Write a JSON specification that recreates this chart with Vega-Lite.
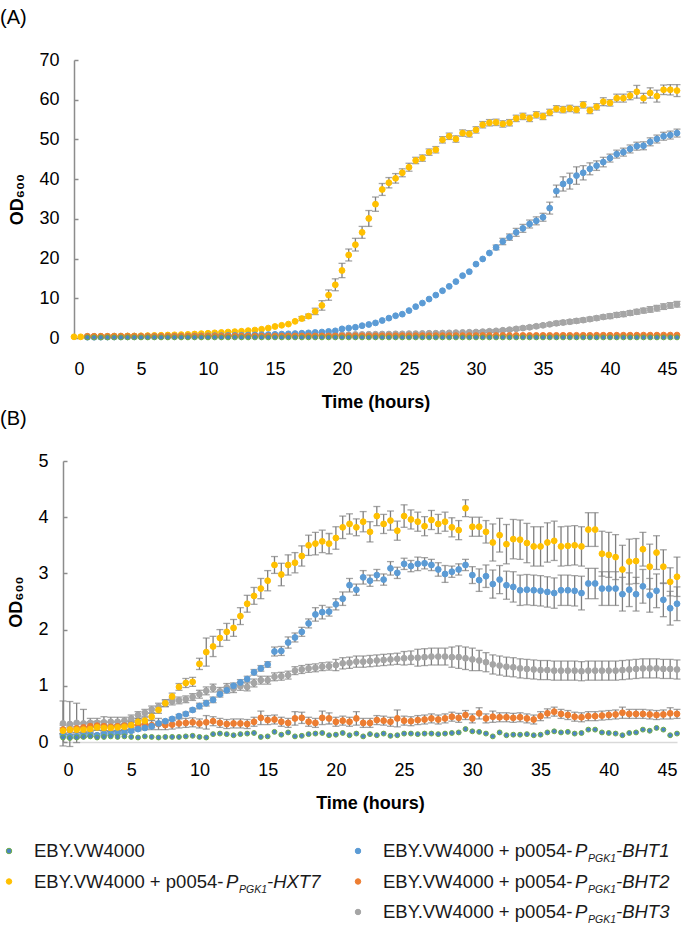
{
"$schema":"https://vega.github.io/schema/vega-lite/v6.json",
"background":"white",
"padding":{"left":0,"top":8,"right":0,"bottom":0},
"spacing":-2,
"columns":1,
"align":"none",
"bounds":"full",
"config":{"view":{"stroke":null},"font":"Liberation Sans",
"axis":{"grid":false,"labelFont":"Liberation Sans","labelFontSize":18,"labelColor":"#000","titleFont":"Liberation Sans","titleFontSize":18,"titleFontWeight":"bold","titleColor":"#000"},
"axisX":{"domainColor":"#d9d9d9","domainWidth":1.5,"ticks":false,"labelPadding":20,"titlePadding":15},
"axisY":{"domainColor":"#8c8c8c","domainWidth":1.5,"tickColor":"#8c8c8c","tickSize":-4,"tickWidth":1.5,"labelPadding":19,"titlePadding":12},
"title":{"anchor":"start","frame":"group","fontSize":20,"fontWeight":"normal","font":"Liberation Sans","color":"#000","offset":23}},
"resolve":{"scale":{"x":"independent","y":"independent"}},
"datasets":{
"A":[
{"t":1,"s":"B3","y":0.45},{"t":1.5,"s":"B3","y":0.45},{"t":2,"s":"B3","y":0.45},{"t":2.5,"s":"B3","y":0.45},{"t":3,"s":"B3","y":0.5},{"t":3.5,"s":"B3","y":0.5},{"t":4,"s":"B3","y":0.5},{"t":4.5,"s":"B3","y":0.5},{"t":5,"s":"B3","y":0.5},{"t":5.5,"s":"B3","y":0.5},{"t":6,"s":"B3","y":0.5},{"t":6.5,"s":"B3","y":0.5},{"t":7,"s":"B3","y":0.55},{"t":7.5,"s":"B3","y":0.55},{"t":8,"s":"B3","y":0.55},{"t":8.5,"s":"B3","y":0.55},{"t":9,"s":"B3","y":0.55},{"t":9.5,"s":"B3","y":0.55},{"t":10,"s":"B3","y":0.6},{"t":10.5,"s":"B3","y":0.6},{"t":11,"s":"B3","y":0.6},{"t":11.5,"s":"B3","y":0.6},{"t":12,"s":"B3","y":0.6},{"t":12.5,"s":"B3","y":0.6},{"t":13,"s":"B3","y":0.65},{"t":13.5,"s":"B3","y":0.65},{"t":14,"s":"B3","y":0.65},{"t":14.5,"s":"B3","y":0.65},{"t":15,"s":"B3","y":0.7},{"t":15.5,"s":"B3","y":0.7},{"t":16,"s":"B3","y":0.7},{"t":16.5,"s":"B3","y":0.7},{"t":17,"s":"B3","y":0.75},{"t":17.5,"s":"B3","y":0.75},{"t":18,"s":"B3","y":0.75},{"t":18.5,"s":"B3","y":0.8},{"t":19,"s":"B3","y":0.8},{"t":19.5,"s":"B3","y":0.8},{"t":20,"s":"B3","y":0.85},{"t":20.5,"s":"B3","y":0.85},{"t":21,"s":"B3","y":0.9},{"t":21.5,"s":"B3","y":0.9},{"t":22,"s":"B3","y":0.95},{"t":22.5,"s":"B3","y":0.95},{"t":23,"s":"B3","y":1.0},{"t":23.5,"s":"B3","y":1.0},{"t":24,"s":"B3","y":1.05},{"t":24.5,"s":"B3","y":1.05},{"t":25,"s":"B3","y":1.1},{"t":25.5,"s":"B3","y":1.1},{"t":26,"s":"B3","y":1.15},{"t":26.5,"s":"B3","y":1.2},{"t":27,"s":"B3","y":1.2},{"t":27.5,"s":"B3","y":1.25},{"t":28,"s":"B3","y":1.3},{"t":28.5,"s":"B3","y":1.35},{"t":29,"s":"B3","y":1.4},{"t":29.5,"s":"B3","y":1.45},{"t":30,"s":"B3","y":1.5,"e":0.3},{"t":30.5,"s":"B3","y":1.6,"e":0.3},{"t":31,"s":"B3","y":1.7,"e":0.3},{"t":31.5,"s":"B3","y":1.8,"e":0.3},{"t":32,"s":"B3","y":1.95,"e":0.3},{"t":32.5,"s":"B3","y":2.1,"e":0.3},{"t":33,"s":"B3","y":2.3,"e":0.4},{"t":33.5,"s":"B3","y":2.5,"e":0.4},{"t":34,"s":"B3","y":2.7,"e":0.4},{"t":34.5,"s":"B3","y":2.95,"e":0.4},{"t":35,"s":"B3","y":3.2,"e":0.4},{"t":35.5,"s":"B3","y":3.45,"e":0.4},{"t":36,"s":"B3","y":3.7,"e":0.5},{"t":36.5,"s":"B3","y":3.9,"e":0.5},{"t":37,"s":"B3","y":4.1,"e":0.5},{"t":37.5,"s":"B3","y":4.3,"e":0.5},{"t":38,"s":"B3","y":4.5,"e":0.5},{"t":38.5,"s":"B3","y":4.75,"e":0.5},{"t":39,"s":"B3","y":5.0,"e":0.5},{"t":39.5,"s":"B3","y":5.3,"e":0.5},{"t":40,"s":"B3","y":5.5,"e":0.6},{"t":40.5,"s":"B3","y":5.8,"e":0.6},{"t":41,"s":"B3","y":6.0,"e":0.6},{"t":41.5,"s":"B3","y":6.3,"e":0.6},{"t":42,"s":"B3","y":6.6,"e":0.6},{"t":42.5,"s":"B3","y":6.9,"e":0.6},{"t":43,"s":"B3","y":7.2,"e":0.7},{"t":43.5,"s":"B3","y":7.5,"e":0.7},{"t":44,"s":"B3","y":7.9,"e":0.7},{"t":44.5,"s":"B3","y":8.2,"e":0.7},{"t":45,"s":"B3","y":8.5,"e":0.7},
{"t":0,"s":"H","y":0.3},{"t":0.5,"s":"H","y":0.3},{"t":1,"s":"H","y":0.35},{"t":1.5,"s":"H","y":0.35},{"t":2,"s":"H","y":0.4},{"t":2.5,"s":"H","y":0.4},{"t":3,"s":"H","y":0.45},{"t":3.5,"s":"H","y":0.45},{"t":4,"s":"H","y":0.5},{"t":4.5,"s":"H","y":0.5},{"t":5,"s":"H","y":0.55},{"t":5.5,"s":"H","y":0.6},{"t":6,"s":"H","y":0.65},{"t":6.5,"s":"H","y":0.7},{"t":7,"s":"H","y":0.75},{"t":7.5,"s":"H","y":0.8},{"t":8,"s":"H","y":0.85},{"t":8.5,"s":"H","y":0.9},{"t":9,"s":"H","y":1.0},{"t":9.5,"s":"H","y":1.1},{"t":10,"s":"H","y":1.2},{"t":10.5,"s":"H","y":1.3},{"t":11,"s":"H","y":1.4},{"t":11.5,"s":"H","y":1.5},{"t":12,"s":"H","y":1.6},{"t":12.5,"s":"H","y":1.7},{"t":13,"s":"H","y":1.85},{"t":13.5,"s":"H","y":2.0},{"t":14,"s":"H","y":2.2},{"t":14.5,"s":"H","y":2.5},{"t":15,"s":"H","y":2.9},{"t":15.5,"s":"H","y":3.2},{"t":16,"s":"H","y":3.5},{"t":16.5,"s":"H","y":4.2},{"t":17,"s":"H","y":4.9,"e":0.5},{"t":17.5,"s":"H","y":5.5,"e":0.5},{"t":18,"s":"H","y":6.7,"e":0.8},{"t":18.5,"s":"H","y":8.2,"e":1.2},{"t":19,"s":"H","y":10.8,"e":1.3},{"t":19.5,"s":"H","y":13.4,"e":1.5},{"t":20,"s":"H","y":17.0,"e":1.8},{"t":20.5,"s":"H","y":20.9,"e":1.5},{"t":21,"s":"H","y":23.5,"e":1.6},{"t":21.5,"s":"H","y":26.6,"e":1.5},{"t":22,"s":"H","y":30.1,"e":2.0},{"t":22.5,"s":"H","y":33.7,"e":1.8},{"t":23,"s":"H","y":37.4,"e":1.5},{"t":23.5,"s":"H","y":39.1,"e":1.3},{"t":24,"s":"H","y":40.2,"e":1.2},{"t":24.5,"s":"H","y":41.6,"e":1.0},{"t":25,"s":"H","y":43.0,"e":1.0},{"t":25.5,"s":"H","y":44.7,"e":0.8},{"t":26,"s":"H","y":45.3,"e":0.8},{"t":26.5,"s":"H","y":46.8,"e":0.8},{"t":27,"s":"H","y":47.4,"e":0.8},{"t":27.5,"s":"H","y":49.9,"e":0.8},{"t":28,"s":"H","y":50.8,"e":0.8},{"t":28.5,"s":"H","y":50.1,"e":0.8},{"t":29,"s":"H","y":51.6,"e":0.8},{"t":29.5,"s":"H","y":51.4,"e":0.8},{"t":30,"s":"H","y":52.4,"e":0.8},{"t":30.5,"s":"H","y":53.7,"e":0.8},{"t":31,"s":"H","y":54.2,"e":0.8},{"t":31.5,"s":"H","y":54.3,"e":0.8},{"t":32,"s":"H","y":53.9,"e":0.8},{"t":32.5,"s":"H","y":54.2,"e":0.8},{"t":33,"s":"H","y":55.3,"e":0.8},{"t":33.5,"s":"H","y":55.8,"e":0.8},{"t":34,"s":"H","y":55.3,"e":0.8},{"t":34.5,"s":"H","y":56.2,"e":0.8},{"t":35,"s":"H","y":55.8,"e":0.8},{"t":35.5,"s":"H","y":56.8,"e":0.8},{"t":36,"s":"H","y":57.7,"e":0.8},{"t":36.5,"s":"H","y":57.5,"e":0.8},{"t":37,"s":"H","y":57.8,"e":0.8},{"t":37.5,"s":"H","y":57.5,"e":0.8},{"t":38,"s":"H","y":58.7,"e":0.8},{"t":38.5,"s":"H","y":57.3,"e":0.8},{"t":39,"s":"H","y":58.2,"e":0.8},{"t":39.5,"s":"H","y":59.5,"e":1.0},{"t":40,"s":"H","y":59.2,"e":0.8},{"t":40.5,"s":"H","y":60.4,"e":1.0},{"t":41,"s":"H","y":60.4,"e":1.0},{"t":41.5,"s":"H","y":61.0,"e":1.0},{"t":42,"s":"H","y":62.0,"e":1.6},{"t":42.5,"s":"H","y":60.4,"e":1.2},{"t":43,"s":"H","y":61.7,"e":1.3},{"t":43.5,"s":"H","y":60.9,"e":1.5},{"t":44,"s":"H","y":62.5,"e":1.2},{"t":44.5,"s":"H","y":62.5,"e":1.3},{"t":45,"s":"H","y":62.3,"e":1.5},
{"t":1,"s":"B1","y":0.2},{"t":1.5,"s":"B1","y":0.2},{"t":2,"s":"B1","y":0.22},{"t":2.5,"s":"B1","y":0.24},{"t":3,"s":"B1","y":0.26},{"t":3.5,"s":"B1","y":0.28},{"t":4,"s":"B1","y":0.3},{"t":4.5,"s":"B1","y":0.32},{"t":5,"s":"B1","y":0.34},{"t":5.5,"s":"B1","y":0.36},{"t":6,"s":"B1","y":0.38},{"t":6.5,"s":"B1","y":0.4},{"t":7,"s":"B1","y":0.42},{"t":7.5,"s":"B1","y":0.44},{"t":8,"s":"B1","y":0.46},{"t":8.5,"s":"B1","y":0.48},{"t":9,"s":"B1","y":0.5},{"t":9.5,"s":"B1","y":0.52},{"t":10,"s":"B1","y":0.55},{"t":10.5,"s":"B1","y":0.58},{"t":11,"s":"B1","y":0.6},{"t":11.5,"s":"B1","y":0.63},{"t":12,"s":"B1","y":0.66},{"t":12.5,"s":"B1","y":0.7},{"t":13,"s":"B1","y":0.74},{"t":13.5,"s":"B1","y":0.78},{"t":14,"s":"B1","y":0.82},{"t":14.5,"s":"B1","y":0.87},{"t":15,"s":"B1","y":0.92},{"t":15.5,"s":"B1","y":0.98},{"t":16,"s":"B1","y":1.05},{"t":16.5,"s":"B1","y":1.12},{"t":17,"s":"B1","y":1.2},{"t":17.5,"s":"B1","y":1.3},{"t":18,"s":"B1","y":1.4},{"t":18.5,"s":"B1","y":1.5},{"t":19,"s":"B1","y":1.65},{"t":19.5,"s":"B1","y":1.8},{"t":20,"s":"B1","y":2.3},{"t":20.5,"s":"B1","y":2.5},{"t":21,"s":"B1","y":2.7},{"t":21.5,"s":"B1","y":3.1},{"t":22,"s":"B1","y":3.4},{"t":22.5,"s":"B1","y":3.8},{"t":23,"s":"B1","y":4.4},{"t":23.5,"s":"B1","y":5.0},{"t":24,"s":"B1","y":5.6},{"t":24.5,"s":"B1","y":6.0},{"t":25,"s":"B1","y":6.9},{"t":25.5,"s":"B1","y":7.9},{"t":26,"s":"B1","y":8.8},{"t":26.5,"s":"B1","y":9.8},{"t":27,"s":"B1","y":10.8},{"t":27.5,"s":"B1","y":11.9},{"t":28,"s":"B1","y":13.0},{"t":28.5,"s":"B1","y":14.2},{"t":29,"s":"B1","y":15.7},{"t":29.5,"s":"B1","y":16.7},{"t":30,"s":"B1","y":18.6},{"t":30.5,"s":"B1","y":19.9},{"t":31,"s":"B1","y":21.4},{"t":31.5,"s":"B1","y":22.8,"e":0.6},{"t":32,"s":"B1","y":24.3,"e":0.8},{"t":32.5,"s":"B1","y":25.4,"e":0.8},{"t":33,"s":"B1","y":26.6,"e":1.0},{"t":33.5,"s":"B1","y":27.6,"e":1.0},{"t":34,"s":"B1","y":28.7,"e":1.0},{"t":34.5,"s":"B1","y":29.5,"e":1.0},{"t":35,"s":"B1","y":30.4,"e":1.0},{"t":35.5,"s":"B1","y":32.7,"e":1.5},{"t":36,"s":"B1","y":37.0,"e":1.5},{"t":36.5,"s":"B1","y":38.8,"e":1.8},{"t":37,"s":"B1","y":39.5,"e":2.0},{"t":37.5,"s":"B1","y":40.9,"e":2.2},{"t":38,"s":"B1","y":41.6,"e":1.8},{"t":38.5,"s":"B1","y":42.6,"e":1.5},{"t":39,"s":"B1","y":43.4,"e":1.2},{"t":39.5,"s":"B1","y":44.3,"e":1.2},{"t":40,"s":"B1","y":45.3,"e":1.0},{"t":40.5,"s":"B1","y":46.3,"e":1.0},{"t":41,"s":"B1","y":46.8,"e":1.0},{"t":41.5,"s":"B1","y":47.6,"e":1.0},{"t":42,"s":"B1","y":48.3,"e":1.0},{"t":42.5,"s":"B1","y":48.4,"e":1.0},{"t":43,"s":"B1","y":49.4,"e":1.0},{"t":43.5,"s":"B1","y":50.1,"e":1.0},{"t":44,"s":"B1","y":50.8,"e":1.0},{"t":44.5,"s":"B1","y":51.1,"e":1.0},{"t":45,"s":"B1","y":51.6,"e":1.0},
{"t":1,"s":"B2","y":0.4},{"t":1.5,"s":"B2","y":0.4},{"t":2,"s":"B2","y":0.4},{"t":2.5,"s":"B2","y":0.4},{"t":3,"s":"B2","y":0.4},{"t":3.5,"s":"B2","y":0.4},{"t":4,"s":"B2","y":0.42},{"t":4.5,"s":"B2","y":0.42},{"t":5,"s":"B2","y":0.42},{"t":5.5,"s":"B2","y":0.42},{"t":6,"s":"B2","y":0.43},{"t":6.5,"s":"B2","y":0.43},{"t":7,"s":"B2","y":0.43},{"t":7.5,"s":"B2","y":0.44},{"t":8,"s":"B2","y":0.44},{"t":8.5,"s":"B2","y":0.44},{"t":9,"s":"B2","y":0.45},{"t":9.5,"s":"B2","y":0.45},{"t":10,"s":"B2","y":0.45},{"t":10.5,"s":"B2","y":0.46},{"t":11,"s":"B2","y":0.46},{"t":11.5,"s":"B2","y":0.46},{"t":12,"s":"B2","y":0.47},{"t":12.5,"s":"B2","y":0.47},{"t":13,"s":"B2","y":0.47},{"t":13.5,"s":"B2","y":0.48},{"t":14,"s":"B2","y":0.48},{"t":14.5,"s":"B2","y":0.48},{"t":15,"s":"B2","y":0.49},{"t":15.5,"s":"B2","y":0.49},{"t":16,"s":"B2","y":0.5},{"t":16.5,"s":"B2","y":0.5},{"t":17,"s":"B2","y":0.5},{"t":17.5,"s":"B2","y":0.51},{"t":18,"s":"B2","y":0.51},{"t":18.5,"s":"B2","y":0.52},{"t":19,"s":"B2","y":0.52},{"t":19.5,"s":"B2","y":0.52},{"t":20,"s":"B2","y":0.53},{"t":20.5,"s":"B2","y":0.53},{"t":21,"s":"B2","y":0.54},{"t":21.5,"s":"B2","y":0.54},{"t":22,"s":"B2","y":0.55},{"t":22.5,"s":"B2","y":0.55},{"t":23,"s":"B2","y":0.55},{"t":23.5,"s":"B2","y":0.56},{"t":24,"s":"B2","y":0.56},{"t":24.5,"s":"B2","y":0.57},{"t":25,"s":"B2","y":0.57},{"t":25.5,"s":"B2","y":0.58},{"t":26,"s":"B2","y":0.58},{"t":26.5,"s":"B2","y":0.58},{"t":27,"s":"B2","y":0.59},{"t":27.5,"s":"B2","y":0.59},{"t":28,"s":"B2","y":0.6},{"t":28.5,"s":"B2","y":0.6},{"t":29,"s":"B2","y":0.6},{"t":29.5,"s":"B2","y":0.61},{"t":30,"s":"B2","y":0.61},{"t":30.5,"s":"B2","y":0.62},{"t":31,"s":"B2","y":0.62},{"t":31.5,"s":"B2","y":0.62},{"t":32,"s":"B2","y":0.63},{"t":32.5,"s":"B2","y":0.63},{"t":33,"s":"B2","y":0.64},{"t":33.5,"s":"B2","y":0.64},{"t":34,"s":"B2","y":0.65},{"t":34.5,"s":"B2","y":0.65},{"t":35,"s":"B2","y":0.65},{"t":35.5,"s":"B2","y":0.66},{"t":36,"s":"B2","y":0.66},{"t":36.5,"s":"B2","y":0.67},{"t":37,"s":"B2","y":0.67},{"t":37.5,"s":"B2","y":0.68},{"t":38,"s":"B2","y":0.68},{"t":38.5,"s":"B2","y":0.68},{"t":39,"s":"B2","y":0.69},{"t":39.5,"s":"B2","y":0.69},{"t":40,"s":"B2","y":0.7},{"t":40.5,"s":"B2","y":0.7},{"t":41,"s":"B2","y":0.7},{"t":41.5,"s":"B2","y":0.71},{"t":42,"s":"B2","y":0.71},{"t":42.5,"s":"B2","y":0.72},{"t":43,"s":"B2","y":0.72},{"t":43.5,"s":"B2","y":0.72},{"t":44,"s":"B2","y":0.73},{"t":44.5,"s":"B2","y":0.73},{"t":45,"s":"B2","y":0.74},
{"t":1,"s":"E","y":0.15},{"t":1.5,"s":"E","y":0.15},{"t":2,"s":"E","y":0.15},{"t":2.5,"s":"E","y":0.15},{"t":3,"s":"E","y":0.15},{"t":3.5,"s":"E","y":0.15},{"t":4,"s":"E","y":0.15},{"t":4.5,"s":"E","y":0.15},{"t":5,"s":"E","y":0.15},{"t":5.5,"s":"E","y":0.15},{"t":6,"s":"E","y":0.15},{"t":6.5,"s":"E","y":0.15},{"t":7,"s":"E","y":0.15},{"t":7.5,"s":"E","y":0.15},{"t":8,"s":"E","y":0.15},{"t":8.5,"s":"E","y":0.15},{"t":9,"s":"E","y":0.15},{"t":9.5,"s":"E","y":0.15},{"t":10,"s":"E","y":0.15},{"t":10.5,"s":"E","y":0.15},{"t":11,"s":"E","y":0.15},{"t":11.5,"s":"E","y":0.15},{"t":12,"s":"E","y":0.15},{"t":12.5,"s":"E","y":0.15},{"t":13,"s":"E","y":0.15},{"t":13.5,"s":"E","y":0.15},{"t":14,"s":"E","y":0.15},{"t":14.5,"s":"E","y":0.15},{"t":15,"s":"E","y":0.15},{"t":15.5,"s":"E","y":0.15},{"t":16,"s":"E","y":0.15},{"t":16.5,"s":"E","y":0.15},{"t":17,"s":"E","y":0.15},{"t":17.5,"s":"E","y":0.15},{"t":18,"s":"E","y":0.15},{"t":18.5,"s":"E","y":0.15},{"t":19,"s":"E","y":0.15},{"t":19.5,"s":"E","y":0.15},{"t":20,"s":"E","y":0.15},{"t":20.5,"s":"E","y":0.15},{"t":21,"s":"E","y":0.15},{"t":21.5,"s":"E","y":0.15},{"t":22,"s":"E","y":0.15},{"t":22.5,"s":"E","y":0.15},{"t":23,"s":"E","y":0.15},{"t":23.5,"s":"E","y":0.15},{"t":24,"s":"E","y":0.15},{"t":24.5,"s":"E","y":0.15},{"t":25,"s":"E","y":0.15},{"t":25.5,"s":"E","y":0.15},{"t":26,"s":"E","y":0.15},{"t":26.5,"s":"E","y":0.15},{"t":27,"s":"E","y":0.15},{"t":27.5,"s":"E","y":0.15},{"t":28,"s":"E","y":0.15},{"t":28.5,"s":"E","y":0.15},{"t":29,"s":"E","y":0.15},{"t":29.5,"s":"E","y":0.15},{"t":30,"s":"E","y":0.15},{"t":30.5,"s":"E","y":0.15},{"t":31,"s":"E","y":0.15},{"t":31.5,"s":"E","y":0.15},{"t":32,"s":"E","y":0.15},{"t":32.5,"s":"E","y":0.15},{"t":33,"s":"E","y":0.15},{"t":33.5,"s":"E","y":0.15},{"t":34,"s":"E","y":0.15},{"t":34.5,"s":"E","y":0.15},{"t":35,"s":"E","y":0.15},{"t":35.5,"s":"E","y":0.15},{"t":36,"s":"E","y":0.15},{"t":36.5,"s":"E","y":0.15},{"t":37,"s":"E","y":0.15},{"t":37.5,"s":"E","y":0.15},{"t":38,"s":"E","y":0.15},{"t":38.5,"s":"E","y":0.15},{"t":39,"s":"E","y":0.15},{"t":39.5,"s":"E","y":0.15},{"t":40,"s":"E","y":0.15},{"t":40.5,"s":"E","y":0.15},{"t":41,"s":"E","y":0.15},{"t":41.5,"s":"E","y":0.15},{"t":42,"s":"E","y":0.15},{"t":42.5,"s":"E","y":0.15},{"t":43,"s":"E","y":0.15},{"t":43.5,"s":"E","y":0.15},{"t":44,"s":"E","y":0.15},{"t":44.5,"s":"E","y":0.15},{"t":45,"s":"E","y":0.15}
],
"B":[
{"t":0,"s":"B3","y":0.33,"e":0.4},{"t":0.5,"s":"B3","y":0.32,"e":0.4},{"t":1,"s":"B3","y":0.34,"e":0.35},{"t":1.5,"s":"B3","y":0.33,"e":0.25},{"t":2,"s":"B3","y":0.34,"e":0.08},{"t":2.5,"s":"B3","y":0.34,"e":0.08},{"t":3,"s":"B3","y":0.35,"e":0.1},{"t":3.5,"s":"B3","y":0.36,"e":0.08},{"t":4,"s":"B3","y":0.36,"e":0.08},{"t":4.5,"s":"B3","y":0.38,"e":0.06},{"t":5,"s":"B3","y":0.42,"e":0.06},{"t":5.5,"s":"B3","y":0.48,"e":0.06},{"t":6,"s":"B3","y":0.52,"e":0.06},{"t":6.5,"s":"B3","y":0.58,"e":0.06},{"t":7,"s":"B3","y":0.63,"e":0.06},{"t":7.5,"s":"B3","y":0.69,"e":0.06},{"t":8,"s":"B3","y":0.72,"e":0.06},{"t":8.5,"s":"B3","y":0.74,"e":0.06},{"t":9,"s":"B3","y":0.76,"e":0.06},{"t":9.5,"s":"B3","y":0.8,"e":0.06},{"t":10,"s":"B3","y":0.85,"e":0.07},{"t":10.5,"s":"B3","y":0.91,"e":0.07},{"t":11,"s":"B3","y":0.96,"e":0.07},{"t":11.5,"s":"B3","y":0.9,"e":0.07},{"t":12,"s":"B3","y":0.97,"e":0.07},{"t":12.5,"s":"B3","y":0.95,"e":0.07},{"t":13,"s":"B3","y":0.99,"e":0.07},{"t":13.5,"s":"B3","y":0.98,"e":0.07},{"t":14,"s":"B3","y":1.05,"e":0.07},{"t":14.5,"s":"B3","y":1.1,"e":0.07},{"t":15,"s":"B3","y":1.1,"e":0.07},{"t":15.5,"s":"B3","y":1.16,"e":0.07},{"t":16,"s":"B3","y":1.17,"e":0.07},{"t":16.5,"s":"B3","y":1.19,"e":0.07},{"t":17,"s":"B3","y":1.27,"e":0.07},{"t":17.5,"s":"B3","y":1.29,"e":0.07},{"t":18,"s":"B3","y":1.31,"e":0.07},{"t":18.5,"s":"B3","y":1.32,"e":0.07},{"t":19,"s":"B3","y":1.34,"e":0.07},{"t":19.5,"s":"B3","y":1.35,"e":0.07},{"t":20,"s":"B3","y":1.37,"e":0.1},{"t":20.5,"s":"B3","y":1.4,"e":0.1},{"t":21,"s":"B3","y":1.41,"e":0.1},{"t":21.5,"s":"B3","y":1.43,"e":0.1},{"t":22,"s":"B3","y":1.43,"e":0.1},{"t":22.5,"s":"B3","y":1.44,"e":0.1},{"t":23,"s":"B3","y":1.45,"e":0.1},{"t":23.5,"s":"B3","y":1.46,"e":0.1},{"t":24,"s":"B3","y":1.47,"e":0.1},{"t":24.5,"s":"B3","y":1.48,"e":0.1},{"t":25,"s":"B3","y":1.49,"e":0.12},{"t":25.5,"s":"B3","y":1.5,"e":0.12},{"t":26,"s":"B3","y":1.5,"e":0.15},{"t":26.5,"s":"B3","y":1.51,"e":0.15},{"t":27,"s":"B3","y":1.52,"e":0.15},{"t":27.5,"s":"B3","y":1.52,"e":0.15},{"t":28,"s":"B3","y":1.52,"e":0.15},{"t":28.5,"s":"B3","y":1.51,"e":0.18},{"t":29,"s":"B3","y":1.51,"e":0.2},{"t":29.5,"s":"B3","y":1.49,"e":0.2},{"t":30,"s":"B3","y":1.47,"e":0.2},{"t":30.5,"s":"B3","y":1.45,"e":0.18},{"t":31,"s":"B3","y":1.42,"e":0.17},{"t":31.5,"s":"B3","y":1.38,"e":0.17},{"t":32,"s":"B3","y":1.36,"e":0.17},{"t":32.5,"s":"B3","y":1.34,"e":0.17},{"t":33,"s":"B3","y":1.33,"e":0.17},{"t":33.5,"s":"B3","y":1.31,"e":0.17},{"t":34,"s":"B3","y":1.3,"e":0.17},{"t":34.5,"s":"B3","y":1.29,"e":0.17},{"t":35,"s":"B3","y":1.28,"e":0.17},{"t":35.5,"s":"B3","y":1.28,"e":0.17},{"t":36,"s":"B3","y":1.27,"e":0.17},{"t":36.5,"s":"B3","y":1.27,"e":0.17},{"t":37,"s":"B3","y":1.27,"e":0.17},{"t":37.5,"s":"B3","y":1.27,"e":0.17},{"t":38,"s":"B3","y":1.26,"e":0.17},{"t":38.5,"s":"B3","y":1.27,"e":0.17},{"t":39,"s":"B3","y":1.27,"e":0.17},{"t":39.5,"s":"B3","y":1.27,"e":0.17},{"t":40,"s":"B3","y":1.27,"e":0.17},{"t":40.5,"s":"B3","y":1.27,"e":0.17},{"t":41,"s":"B3","y":1.28,"e":0.17},{"t":41.5,"s":"B3","y":1.29,"e":0.17},{"t":42,"s":"B3","y":1.3,"e":0.17},{"t":42.5,"s":"B3","y":1.31,"e":0.17},{"t":43,"s":"B3","y":1.31,"e":0.17},{"t":43.5,"s":"B3","y":1.31,"e":0.17},{"t":44,"s":"B3","y":1.3,"e":0.17},{"t":44.5,"s":"B3","y":1.3,"e":0.17},{"t":45,"s":"B3","y":1.29,"e":0.17},
{"t":0,"s":"B2","y":0.22,"e":0.08},{"t":0.5,"s":"B2","y":0.22,"e":0.08},{"t":1,"s":"B2","y":0.24,"e":0.08},{"t":1.5,"s":"B2","y":0.26,"e":0.08},{"t":2,"s":"B2","y":0.28,"e":0.08},{"t":2.5,"s":"B2","y":0.29,"e":0.08},{"t":3,"s":"B2","y":0.28,"e":0.08},{"t":3.5,"s":"B2","y":0.27,"e":0.08},{"t":4,"s":"B2","y":0.28,"e":0.08},{"t":4.5,"s":"B2","y":0.29,"e":0.08},{"t":5,"s":"B2","y":0.3,"e":0.08},{"t":5.5,"s":"B2","y":0.31,"e":0.08},{"t":6,"s":"B2","y":0.32,"e":0.08},{"t":6.5,"s":"B2","y":0.3,"e":0.08},{"t":7,"s":"B2","y":0.32,"e":0.1},{"t":7.5,"s":"B2","y":0.3,"e":0.08},{"t":8,"s":"B2","y":0.31,"e":0.08},{"t":8.5,"s":"B2","y":0.33,"e":0.08},{"t":9,"s":"B2","y":0.34,"e":0.08},{"t":9.5,"s":"B2","y":0.35,"e":0.08},{"t":10,"s":"B2","y":0.33,"e":0.08},{"t":10.5,"s":"B2","y":0.35,"e":0.12},{"t":11,"s":"B2","y":0.37,"e":0.08},{"t":11.5,"s":"B2","y":0.34,"e":0.08},{"t":12,"s":"B2","y":0.32,"e":0.08},{"t":12.5,"s":"B2","y":0.33,"e":0.08},{"t":13,"s":"B2","y":0.33,"e":0.08},{"t":13.5,"s":"B2","y":0.32,"e":0.08},{"t":14,"s":"B2","y":0.36,"e":0.08},{"t":14.5,"s":"B2","y":0.43,"e":0.12},{"t":15,"s":"B2","y":0.39,"e":0.08},{"t":15.5,"s":"B2","y":0.4,"e":0.08},{"t":16,"s":"B2","y":0.36,"e":0.08},{"t":16.5,"s":"B2","y":0.34,"e":0.08},{"t":17,"s":"B2","y":0.42,"e":0.12},{"t":17.5,"s":"B2","y":0.43,"e":0.1},{"t":18,"s":"B2","y":0.36,"e":0.08},{"t":18.5,"s":"B2","y":0.34,"e":0.08},{"t":19,"s":"B2","y":0.43,"e":0.12},{"t":19.5,"s":"B2","y":0.42,"e":0.1},{"t":20,"s":"B2","y":0.36,"e":0.08},{"t":20.5,"s":"B2","y":0.38,"e":0.08},{"t":21,"s":"B2","y":0.36,"e":0.08},{"t":21.5,"s":"B2","y":0.42,"e":0.12},{"t":22,"s":"B2","y":0.34,"e":0.08},{"t":22.5,"s":"B2","y":0.34,"e":0.08},{"t":23,"s":"B2","y":0.39,"e":0.08},{"t":23.5,"s":"B2","y":0.38,"e":0.08},{"t":24,"s":"B2","y":0.36,"e":0.08},{"t":24.5,"s":"B2","y":0.42,"e":0.15},{"t":25,"s":"B2","y":0.38,"e":0.08},{"t":25.5,"s":"B2","y":0.37,"e":0.08},{"t":26,"s":"B2","y":0.39,"e":0.08},{"t":26.5,"s":"B2","y":0.4,"e":0.08},{"t":27,"s":"B2","y":0.42,"e":0.08},{"t":27.5,"s":"B2","y":0.4,"e":0.08},{"t":28,"s":"B2","y":0.42,"e":0.08},{"t":28.5,"s":"B2","y":0.45,"e":0.08},{"t":29,"s":"B2","y":0.43,"e":0.08},{"t":29.5,"s":"B2","y":0.48,"e":0.08},{"t":30,"s":"B2","y":0.42,"e":0.08},{"t":30.5,"s":"B2","y":0.51,"e":0.1},{"t":31,"s":"B2","y":0.42,"e":0.08},{"t":31.5,"s":"B2","y":0.45,"e":0.1},{"t":32,"s":"B2","y":0.44,"e":0.08},{"t":32.5,"s":"B2","y":0.44,"e":0.08},{"t":33,"s":"B2","y":0.43,"e":0.08},{"t":33.5,"s":"B2","y":0.44,"e":0.08},{"t":34,"s":"B2","y":0.42,"e":0.08},{"t":34.5,"s":"B2","y":0.4,"e":0.08},{"t":35,"s":"B2","y":0.46,"e":0.08},{"t":35.5,"s":"B2","y":0.51,"e":0.08},{"t":36,"s":"B2","y":0.54,"e":0.08},{"t":36.5,"s":"B2","y":0.5,"e":0.08},{"t":37,"s":"B2","y":0.48,"e":0.08},{"t":37.5,"s":"B2","y":0.45,"e":0.08},{"t":38,"s":"B2","y":0.44,"e":0.08},{"t":38.5,"s":"B2","y":0.46,"e":0.08},{"t":39,"s":"B2","y":0.46,"e":0.08},{"t":39.5,"s":"B2","y":0.47,"e":0.08},{"t":40,"s":"B2","y":0.48,"e":0.08},{"t":40.5,"s":"B2","y":0.49,"e":0.08},{"t":41,"s":"B2","y":0.52,"e":0.1},{"t":41.5,"s":"B2","y":0.5,"e":0.08},{"t":42,"s":"B2","y":0.5,"e":0.08},{"t":42.5,"s":"B2","y":0.5,"e":0.08},{"t":43,"s":"B2","y":0.49,"e":0.08},{"t":43.5,"s":"B2","y":0.48,"e":0.08},{"t":44,"s":"B2","y":0.49,"e":0.08},{"t":44.5,"s":"B2","y":0.51,"e":0.1},{"t":45,"s":"B2","y":0.5,"e":0.08},
{"t":0,"s":"B1","y":0.12,"e":0.03},{"t":0.5,"s":"B1","y":0.1,"e":0.03},{"t":1,"s":"B1","y":0.1,"e":0.03},{"t":1.5,"s":"B1","y":0.12,"e":0.03},{"t":2,"s":"B1","y":0.13,"e":0.03},{"t":2.5,"s":"B1","y":0.12,"e":0.03},{"t":3,"s":"B1","y":0.14,"e":0.03},{"t":3.5,"s":"B1","y":0.15,"e":0.03},{"t":4,"s":"B1","y":0.16,"e":0.03},{"t":4.5,"s":"B1","y":0.17,"e":0.03},{"t":5,"s":"B1","y":0.2,"e":0.03},{"t":5.5,"s":"B1","y":0.23,"e":0.03},{"t":6,"s":"B1","y":0.25,"e":0.03},{"t":6.5,"s":"B1","y":0.28,"e":0.03},{"t":7,"s":"B1","y":0.33,"e":0.03},{"t":7.5,"s":"B1","y":0.37,"e":0.03},{"t":8,"s":"B1","y":0.41,"e":0.03},{"t":8.5,"s":"B1","y":0.46,"e":0.03},{"t":9,"s":"B1","y":0.5,"e":0.03},{"t":9.5,"s":"B1","y":0.57,"e":0.03},{"t":10,"s":"B1","y":0.64,"e":0.05},{"t":10.5,"s":"B1","y":0.69,"e":0.05},{"t":11,"s":"B1","y":0.75,"e":0.05},{"t":11.5,"s":"B1","y":0.85,"e":0.05},{"t":12,"s":"B1","y":0.92,"e":0.05},{"t":12.5,"s":"B1","y":1.0,"e":0.05},{"t":13,"s":"B1","y":1.06,"e":0.05},{"t":13.5,"s":"B1","y":1.12,"e":0.05},{"t":14,"s":"B1","y":1.24,"e":0.05},{"t":14.5,"s":"B1","y":1.31,"e":0.05},{"t":15,"s":"B1","y":1.38,"e":0.05},{"t":15.5,"s":"B1","y":1.61,"e":0.08},{"t":16,"s":"B1","y":1.62,"e":0.08},{"t":16.5,"s":"B1","y":1.77,"e":0.1},{"t":17,"s":"B1","y":1.86,"e":0.08},{"t":17.5,"s":"B1","y":1.96,"e":0.08},{"t":18,"s":"B1","y":2.11,"e":0.08},{"t":18.5,"s":"B1","y":2.27,"e":0.12},{"t":19,"s":"B1","y":2.31,"e":0.12},{"t":19.5,"s":"B1","y":2.32,"e":0.08},{"t":20,"s":"B1","y":2.45,"e":0.1},{"t":20.5,"s":"B1","y":2.55,"e":0.12},{"t":21,"s":"B1","y":2.79,"e":0.12},{"t":21.5,"s":"B1","y":2.71,"e":0.1},{"t":22,"s":"B1","y":2.93,"e":0.12},{"t":22.5,"s":"B1","y":2.87,"e":0.1},{"t":23,"s":"B1","y":2.97,"e":0.1},{"t":23.5,"s":"B1","y":2.89,"e":0.1},{"t":24,"s":"B1","y":3.09,"e":0.12},{"t":24.5,"s":"B1","y":3.01,"e":0.1},{"t":25,"s":"B1","y":3.17,"e":0.1},{"t":25.5,"s":"B1","y":3.13,"e":0.1},{"t":26,"s":"B1","y":3.17,"e":0.12},{"t":26.5,"s":"B1","y":3.18,"e":0.1},{"t":27,"s":"B1","y":3.15,"e":0.1},{"t":27.5,"s":"B1","y":3.07,"e":0.12},{"t":28,"s":"B1","y":2.99,"e":0.15},{"t":28.5,"s":"B1","y":3.03,"e":0.1},{"t":29,"s":"B1","y":3.07,"e":0.1},{"t":29.5,"s":"B1","y":3.15,"e":0.1},{"t":30,"s":"B1","y":2.97,"e":0.15},{"t":30.5,"s":"B1","y":2.88,"e":0.2},{"t":31,"s":"B1","y":2.95,"e":0.2},{"t":31.5,"s":"B1","y":2.81,"e":0.25},{"t":32,"s":"B1","y":2.89,"e":0.25},{"t":32.5,"s":"B1","y":2.79,"e":0.25},{"t":33,"s":"B1","y":2.76,"e":0.27},{"t":33.5,"s":"B1","y":2.7,"e":0.27},{"t":34,"s":"B1","y":2.71,"e":0.27},{"t":34.5,"s":"B1","y":2.7,"e":0.27},{"t":35,"s":"B1","y":2.69,"e":0.27},{"t":35.5,"s":"B1","y":2.67,"e":0.27},{"t":36,"s":"B1","y":2.65,"e":0.27},{"t":36.5,"s":"B1","y":2.7,"e":0.27},{"t":37,"s":"B1","y":2.7,"e":0.27},{"t":37.5,"s":"B1","y":2.69,"e":0.27},{"t":38,"s":"B1","y":2.65,"e":0.3},{"t":38.5,"s":"B1","y":2.82,"e":0.27},{"t":39,"s":"B1","y":2.82,"e":0.27},{"t":39.5,"s":"B1","y":2.73,"e":0.3},{"t":40,"s":"B1","y":2.73,"e":0.3},{"t":40.5,"s":"B1","y":2.73,"e":0.3},{"t":41,"s":"B1","y":2.63,"e":0.3},{"t":41.5,"s":"B1","y":2.71,"e":0.3},{"t":42,"s":"B1","y":2.63,"e":0.3},{"t":42.5,"s":"B1","y":2.77,"e":0.3},{"t":43,"s":"B1","y":2.61,"e":0.3},{"t":43.5,"s":"B1","y":2.69,"e":0.3},{"t":44,"s":"B1","y":2.53,"e":0.3},{"t":44.5,"s":"B1","y":2.38,"e":0.3},{"t":45,"s":"B1","y":2.46,"e":0.3},
{"t":0,"s":"H","y":0.2,"e":0.05},{"t":0.5,"s":"H","y":0.22,"e":0.05},{"t":1,"s":"H","y":0.22,"e":0.05},{"t":1.5,"s":"H","y":0.22,"e":0.05},{"t":2,"s":"H","y":0.23,"e":0.05},{"t":2.5,"s":"H","y":0.26,"e":0.05},{"t":3,"s":"H","y":0.25,"e":0.05},{"t":3.5,"s":"H","y":0.25,"e":0.05},{"t":4,"s":"H","y":0.26,"e":0.05},{"t":4.5,"s":"H","y":0.27,"e":0.05},{"t":5,"s":"H","y":0.3,"e":0.05},{"t":5.5,"s":"H","y":0.36,"e":0.06},{"t":6,"s":"H","y":0.38,"e":0.06},{"t":6.5,"s":"H","y":0.45,"e":0.06},{"t":7,"s":"H","y":0.57,"e":0.06},{"t":7.5,"s":"H","y":0.69,"e":0.06},{"t":8,"s":"H","y":0.81,"e":0.06},{"t":8.5,"s":"H","y":0.98,"e":0.06},{"t":9,"s":"H","y":1.05,"e":0.08},{"t":9.5,"s":"H","y":1.07,"e":0.08},{"t":10,"s":"H","y":1.39,"e":0.1},{"t":10.5,"s":"H","y":1.6,"e":0.25},{"t":11,"s":"H","y":1.7,"e":0.18},{"t":11.5,"s":"H","y":1.85,"e":0.15},{"t":12,"s":"H","y":1.96,"e":0.15},{"t":12.5,"s":"H","y":2.03,"e":0.15},{"t":13,"s":"H","y":2.24,"e":0.15},{"t":13.5,"s":"H","y":2.46,"e":0.15},{"t":14,"s":"H","y":2.6,"e":0.15},{"t":14.5,"s":"H","y":2.73,"e":0.18},{"t":15,"s":"H","y":2.87,"e":0.18},{"t":15.5,"s":"H","y":3.15,"e":0.15},{"t":16,"s":"H","y":2.98,"e":0.2},{"t":16.5,"s":"H","y":3.15,"e":0.18},{"t":17,"s":"H","y":3.19,"e":0.18},{"t":17.5,"s":"H","y":3.31,"e":0.18},{"t":18,"s":"H","y":3.5,"e":0.18},{"t":18.5,"s":"H","y":3.53,"e":0.2},{"t":19,"s":"H","y":3.57,"e":0.2},{"t":19.5,"s":"H","y":3.53,"e":0.18},{"t":20,"s":"H","y":3.63,"e":0.2},{"t":20.5,"s":"H","y":3.82,"e":0.2},{"t":21,"s":"H","y":3.88,"e":0.18},{"t":21.5,"s":"H","y":3.82,"e":0.15},{"t":22,"s":"H","y":3.92,"e":0.18},{"t":22.5,"s":"H","y":3.74,"e":0.18},{"t":23,"s":"H","y":4.02,"e":0.17},{"t":23.5,"s":"H","y":3.88,"e":0.17},{"t":24,"s":"H","y":3.94,"e":0.17},{"t":24.5,"s":"H","y":3.76,"e":0.17},{"t":25,"s":"H","y":4.02,"e":0.2},{"t":25.5,"s":"H","y":3.96,"e":0.17},{"t":26,"s":"H","y":3.92,"e":0.17},{"t":26.5,"s":"H","y":3.84,"e":0.17},{"t":27,"s":"H","y":3.95,"e":0.17},{"t":27.5,"s":"H","y":3.88,"e":0.17},{"t":28,"s":"H","y":3.92,"e":0.17},{"t":28.5,"s":"H","y":3.82,"e":0.17},{"t":29,"s":"H","y":3.77,"e":0.17},{"t":29.5,"s":"H","y":4.16,"e":0.15},{"t":30,"s":"H","y":3.83,"e":0.17},{"t":30.5,"s":"H","y":3.83,"e":0.17},{"t":31,"s":"H","y":3.74,"e":0.2},{"t":31.5,"s":"H","y":3.55,"e":0.33},{"t":32,"s":"H","y":3.68,"e":0.3},{"t":32.5,"s":"H","y":3.52,"e":0.35},{"t":33,"s":"H","y":3.61,"e":0.35},{"t":33.5,"s":"H","y":3.6,"e":0.35},{"t":34,"s":"H","y":3.54,"e":0.35},{"t":34.5,"s":"H","y":3.48,"e":0.35},{"t":35,"s":"H","y":3.48,"e":0.35},{"t":35.5,"s":"H","y":3.55,"e":0.35},{"t":36,"s":"H","y":3.58,"e":0.35},{"t":36.5,"s":"H","y":3.48,"e":0.35},{"t":37,"s":"H","y":3.49,"e":0.35},{"t":37.5,"s":"H","y":3.5,"e":0.35},{"t":38,"s":"H","y":3.48,"e":0.35},{"t":38.5,"s":"H","y":3.78,"e":0.3},{"t":39,"s":"H","y":3.78,"e":0.3},{"t":39.5,"s":"H","y":3.35,"e":0.4},{"t":40,"s":"H","y":3.33,"e":0.4},{"t":40.5,"s":"H","y":3.29,"e":0.4},{"t":41,"s":"H","y":3.07,"e":0.43},{"t":41.5,"s":"H","y":3.21,"e":0.4},{"t":42,"s":"H","y":3.22,"e":0.4},{"t":42.5,"s":"H","y":3.43,"e":0.3},{"t":43,"s":"H","y":3.12,"e":0.4},{"t":43.5,"s":"H","y":3.37,"e":0.3},{"t":44,"s":"H","y":3.12,"e":0.3},{"t":44.5,"s":"H","y":2.85,"e":0.25},{"t":45,"s":"H","y":2.94,"e":0.35},
{"t":0,"s":"E","y":0.08},{"t":0.5,"s":"E","y":0.07},{"t":1,"s":"E","y":0.08},{"t":1.5,"s":"E","y":0.09},{"t":2,"s":"E","y":0.1},{"t":2.5,"s":"E","y":0.08},{"t":3,"s":"E","y":0.09},{"t":3.5,"s":"E","y":0.1},{"t":4,"s":"E","y":0.09},{"t":4.5,"s":"E","y":0.1},{"t":5,"s":"E","y":0.09},{"t":5.5,"s":"E","y":0.08},{"t":6,"s":"E","y":0.1},{"t":6.5,"s":"E","y":0.09},{"t":7,"s":"E","y":0.08},{"t":7.5,"s":"E","y":0.09},{"t":8,"s":"E","y":0.09},{"t":8.5,"s":"E","y":0.09},{"t":9,"s":"E","y":0.1},{"t":9.5,"s":"E","y":0.11},{"t":10,"s":"E","y":0.09},{"t":10.5,"s":"E","y":0.08},{"t":11,"s":"E","y":0.14},{"t":11.5,"s":"E","y":0.15},{"t":12,"s":"E","y":0.14},{"t":12.5,"s":"E","y":0.12},{"t":13,"s":"E","y":0.14},{"t":13.5,"s":"E","y":0.15},{"t":14,"s":"E","y":0.16},{"t":14.5,"s":"E","y":0.09},{"t":15,"s":"E","y":0.1},{"t":15.5,"s":"E","y":0.18},{"t":16,"s":"E","y":0.13},{"t":16.5,"s":"E","y":0.17},{"t":17,"s":"E","y":0.1},{"t":17.5,"s":"E","y":0.11},{"t":18,"s":"E","y":0.14},{"t":18.5,"s":"E","y":0.15},{"t":19,"s":"E","y":0.16},{"t":19.5,"s":"E","y":0.12},{"t":20,"s":"E","y":0.13},{"t":20.5,"s":"E","y":0.16},{"t":21,"s":"E","y":0.12},{"t":21.5,"s":"E","y":0.15},{"t":22,"s":"E","y":0.1},{"t":22.5,"s":"E","y":0.14},{"t":23,"s":"E","y":0.12},{"t":23.5,"s":"E","y":0.15},{"t":24,"s":"E","y":0.11},{"t":24.5,"s":"E","y":0.12},{"t":25,"s":"E","y":0.15},{"t":25.5,"s":"E","y":0.15},{"t":26,"s":"E","y":0.14},{"t":26.5,"s":"E","y":0.15},{"t":27,"s":"E","y":0.15},{"t":27.5,"s":"E","y":0.14},{"t":28,"s":"E","y":0.15},{"t":28.5,"s":"E","y":0.16},{"t":29,"s":"E","y":0.17},{"t":29.5,"s":"E","y":0.23},{"t":30,"s":"E","y":0.19},{"t":30.5,"s":"E","y":0.18},{"t":31,"s":"E","y":0.15},{"t":31.5,"s":"E","y":0.1},{"t":32,"s":"E","y":0.17},{"t":32.5,"s":"E","y":0.12},{"t":33,"s":"E","y":0.13},{"t":33.5,"s":"E","y":0.13},{"t":34,"s":"E","y":0.14},{"t":34.5,"s":"E","y":0.12},{"t":35,"s":"E","y":0.13},{"t":35.5,"s":"E","y":0.17},{"t":36,"s":"E","y":0.19},{"t":36.5,"s":"E","y":0.17},{"t":37,"s":"E","y":0.18},{"t":37.5,"s":"E","y":0.15},{"t":38,"s":"E","y":0.16},{"t":38.5,"s":"E","y":0.22},{"t":39,"s":"E","y":0.22},{"t":39.5,"s":"E","y":0.17},{"t":40,"s":"E","y":0.16},{"t":40.5,"s":"E","y":0.15},{"t":41,"s":"E","y":0.12},{"t":41.5,"s":"E","y":0.16},{"t":42,"s":"E","y":0.17},{"t":42.5,"s":"E","y":0.22},{"t":43,"s":"E","y":0.2},{"t":43.5,"s":"E","y":0.25},{"t":44,"s":"E","y":0.22},{"t":44.5,"s":"E","y":0.12},{"t":45,"s":"E","y":0.15}
],
"L":[
{"s":"E","c":0,"r":0,"a":"EBY.VW4000","g":""},
{"s":"H","c":0,"r":1,"a":"EBY.VW4000 + p0054-","g":"-HXT7"},
{"s":"B1","c":1,"r":0,"a":"EBY.VW4000 + p0054-","g":"-BHT1"},
{"s":"B2","c":1,"r":1,"a":"EBY.VW4000 + p0054-","g":"-BHT2"},
{"s":"B3","c":1,"r":2,"a":"EBY.VW4000 + p0054-","g":"-BHT3"}
]},
"concat":[
{"width":603,"height":278,"title":{"text":"(A)","dx":-74},"data":{"name":"A"},
"encoding":{"x":{"field":"t","type":"quantitative","scale":{"domain":[0,45],"nice":false},"axis":{"values":[0,5,10,15,20,25,30,35,40,45],"title":"Time (hours)","labelPadding":22}},
"y":{"field":"y","type":"quantitative","scale":{"domain":[0,70],"nice":false},"axis":{"values":[0,10,20,30,40,50,60,70],"title":"OD₆₀₀"}}},
"layer":[
{"transform":[{"filter":"datum.e > 0"}],"mark":{"type":"errorbar","ticks":true,"size":7,"thickness":1.3,"color":"#7f7f7f"},"encoding":{"yError":{"field":"e"}}},
{"mark":{"type":"circle","opacity":1,"strokeWidth":1},"encoding":{
"fill":{"field":"s","type":"nominal","scale":{"domain":["E","H","B1","B2","B3"],"range":["#4a84c4","#FFC000","#5B9BD5","#ED7D31","#A5A5A5"]},"legend":null},
"stroke":{"field":"s","type":"nominal","scale":{"domain":["E","H","B1","B2","B3"],"range":["#70AD47","#FFC000","#5B9BD5","#ED7D31","#A5A5A5"]},"legend":null},
"size":{"condition":{"test":"datum.s === 'E'","value":24},"value":34}}}
]},
{"width":603,"height":281,"title":{"text":"(B)","dx":-74},"data":{"name":"B"},
"encoding":{"x":{"field":"t","type":"quantitative","scale":{"domain":[0,45],"nice":false,"range":[-11,603]},"axis":{"values":[0,5,10,15,20,25,30,35,40,45],"title":"Time (hours)","labelPadding":19}},
"y":{"field":"y","type":"quantitative","scale":{"domain":[0,5],"nice":false},"axis":{"values":[0,1,2,3,4,5],"title":"OD₆₀₀","offset":11}}},
"layer":[
{"transform":[{"filter":"datum.e > 0"}],"mark":{"type":"errorbar","ticks":true,"size":7,"thickness":1.3,"color":"#7f7f7f"},"encoding":{"yError":{"field":"e"}}},
{"mark":{"type":"circle","opacity":1,"strokeWidth":1},"encoding":{
"fill":{"field":"s","type":"nominal","scale":{"domain":["E","H","B1","B2","B3"],"range":["#4a84c4","#FFC000","#5B9BD5","#ED7D31","#A5A5A5"]},"legend":null},
"stroke":{"field":"s","type":"nominal","scale":{"domain":["E","H","B1","B2","B3"],"range":["#70AD47","#FFC000","#5B9BD5","#ED7D31","#A5A5A5"]},"legend":null},
"size":{"condition":{"test":"datum.s === 'E'","value":24},"value":34}}}
]},
{"width":603,"height":110,"data":{"name":"L"},
"encoding":{"x":{"field":"c","type":"quantitative","scale":{"domain":[0,1],"range":[-65,284]},"axis":null},
"y":{"field":"r","type":"quantitative","scale":{"domain":[0,2],"range":[41,102]},"axis":null}},
"layer":[
{"mark":{"type":"circle","opacity":1,"strokeWidth":1},"encoding":{
"fill":{"field":"s","type":"nominal","scale":{"domain":["E","H","B1","B2","B3"],"range":["#4a84c4","#FFC000","#5B9BD5","#ED7D31","#A5A5A5"]},"legend":null},
"stroke":{"field":"s","type":"nominal","scale":{"domain":["E","H","B1","B2","B3"],"range":["#70AD47","#FFC000","#5B9BD5","#ED7D31","#A5A5A5"]},"legend":null},
"size":{"value":30}}},
{"mark":{"type":"text","align":"left","baseline":"middle","dx":25,"fontSize":18.5,"font":"Liberation Sans","color":"#1a1a1a"},"encoding":{"text":{"field":"a"}}},
{"transform":[{"filter":"datum.g != ''"}],"mark":{"type":"text","align":"left","baseline":"middle","dx":217,"fontSize":18.5,"fontStyle":"italic","font":"Liberation Sans","color":"#1a1a1a"},"encoding":{"text":{"value":"P"}}},
{"transform":[{"filter":"datum.g != ''"}],"mark":{"type":"text","align":"left","baseline":"middle","dx":230,"dy":8,"fontSize":10.5,"fontStyle":"italic","font":"Liberation Sans","color":"#1a1a1a"},"encoding":{"text":{"value":"PGK1"}}},
{"transform":[{"filter":"datum.g != ''"}],"mark":{"type":"text","align":"left","baseline":"middle","dx":258,"fontSize":18.5,"fontStyle":"italic","font":"Liberation Sans","color":"#1a1a1a"},"encoding":{"text":{"field":"g"}}}
]}
]}
